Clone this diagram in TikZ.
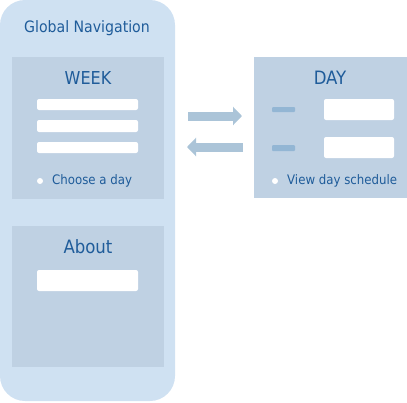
\documentclass[tikz,border=0pt]{standalone}
\usepackage{fontspec}
\setmainfont{DejaVu Sans Condensed}
\definecolor{outerbg}{HTML}{CFE1F2}
\definecolor{panelbg}{HTML}{BFD1E3}
\definecolor{txt}{HTML}{1F5C9A}
\definecolor{dashc}{HTML}{93B6D4}
\definecolor{arrowc}{HTML}{ABC4D8}
\tikzset{
  panel/.style={fill=panelbg, draw=none},
  bar/.style={fill=white, draw=none, rounded corners=2pt},
  dashbar/.style={fill=dashc, draw=none, rounded corners=1pt},
  title/.style={text=txt, font=\fontsize{18.4}{18.4}\selectfont, inner sep=0pt},
  label/.style={text=txt, font=\fontsize{13.1}{13.1}\selectfont, inner sep=0pt, anchor=west},
  dot/.style={circle, fill=white, draw=none, minimum size=6pt, inner sep=0pt},
  fatarrow/.style={arrowc, line width=9pt, -{Triangle[length=9pt,width=18pt]}},
}
\usetikzlibrary{arrows.meta}
\begin{document}
\begin{tikzpicture}[x=1pt,y=-1pt]
\useasboundingbox (0,0) rectangle (407,402);
% global navigation container
\fill[outerbg, rounded corners=25pt] (0,0) rectangle (175,401);
\node[title, font=\fontsize{15.7}{15.7}\selectfont] (gn) at (87,28) {Global Navigation};
% WEEK panel
\fill[panel] (12,57) rectangle (164,199);
\node[title, font=\fontsize{17.8}{17.8}\selectfont] (week) at (88,78) {WEEK};
\fill[bar] (37,99) rectangle (138,110);
\fill[bar] (37,120) rectangle (138,132);
\fill[bar] (37,142) rectangle (138,153);
\node[dot] (wd) at (40,181) {};
\node[label] (choose) at (52,181) {Choose a day};
% About panel
\fill[panel] (12,226) rectangle (164,367);
\node[title] (about) at (88,247) {About};
\fill[bar] (37,270) rectangle (138,291);
% DAY panel
\fill[panel] (254,57) rectangle (407,198);
\node[title] (day) at (330,78) {DAY};
\fill[dashbar] (272,107) rectangle (295,112);
\fill[dashbar] (272,145) rectangle (295,151);
\fill[bar] (324,99) rectangle (394,120);
\fill[bar] (324,137) rectangle (394,158);
\node[dot] (dd) at (275,181) {};
\node[label] (view) at (287,181) {View day schedule};
% arrows
\coordinate (a1s) at (188,116);
\coordinate (a1e) at (242,116);
\coordinate (a2s) at (243,147);
\coordinate (a2e) at (187,147);
\draw[fatarrow] (a1s) -- (a1e);
\draw[fatarrow] (a2s) -- (a2e);
\end{tikzpicture}
\end{document}
